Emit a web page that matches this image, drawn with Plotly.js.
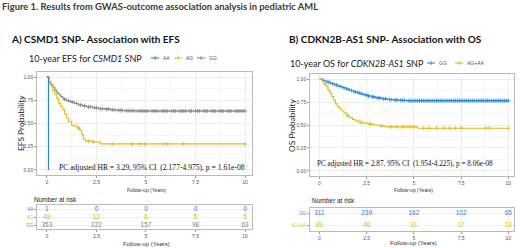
<!DOCTYPE html>
<html><head><meta charset="utf-8">
<script src="https://cdn.plot.ly/plotly-3.0.1.min.js"></script>
<style>html,body{margin:0;padding:0;background:#fff;}#chart{width:520px;height:248px;}</style>
</head><body><div id="chart"></div>
<script>
// ---------- DATA ----------
// Panel A: EFS by CSMD1 SNP genotype
const efsGroups = ["AA", "AG", "GG"];
const efsTimesAA = [0, 0.08];
const efsSurvAA  = [1, 0];
const efsTimesAG = [0, 0.1, 0.2, 0.3, 0.4, 0.5, 0.6, 0.7, 0.8, 0.9, 1.0, 1.1, 1.25, 1.4, 1.55, 1.65, 1.75, 1.85, 1.95, 2.3, 2.7, 10];
const efsSurvAG  = [1, 0.93, 0.90, 0.85, 0.81, 0.77, 0.72, 0.68, 0.65, 0.60, 0.56, 0.52, 0.48, 0.47, 0.45, 0.43, 0.38, 0.33, 0.31, 0.30, 0.28, 0.28];
const efsCensorAG = [1.6, 2.1, 2.35, 3.3, 4.3, 4.7, 4.95, 5.9, 6.1, 6.9, 10];
const efsTimesGG = [0, 0.1, 0.2, 0.3, 0.4, 0.5, 0.6, 0.7, 0.8, 0.9, 1.0, 1.2, 1.4, 1.6, 1.8, 2.0, 2.3, 2.6, 2.9, 3.2, 3.5, 3.9, 4.5, 10];
const efsSurvGG  = [1, 0.95, 0.92, 0.89, 0.86, 0.83, 0.81, 0.79, 0.77, 0.76, 0.745, 0.73, 0.715, 0.70, 0.69, 0.68, 0.67, 0.66, 0.655, 0.648, 0.642, 0.638, 0.635, 0.635];
const efsCensorGG = [0.9, 1.1, 1.3, 1.5, 1.7, 1.9, 2.1, 2.2, 2.4, 2.5, 2.7, 2.8, 3.0, 3.1, 3.3, 3.4, 3.6, 3.7, 3.8, 4.0, 4.1, 4.2, 4.3, 4.4, 4.6, 4.7, 4.8, 4.9, 5.0, 5.1, 5.3, 5.4, 5.5, 5.6, 5.8, 5.9, 6.0, 6.1, 6.3, 6.4, 6.5, 6.7, 6.8, 6.9, 7.0, 7.2, 7.3, 7.5, 7.6, 7.7, 7.9, 8.0, 8.1, 8.3, 8.4, 8.5, 8.7, 8.8, 8.9, 9.1, 9.2, 9.3, 9.5, 9.6, 9.7, 9.8, 9.9, 10.0];
const efsStats = "PC adjusted HR = 3.29, 95% CI  (2.177-4.975), p = 1.61e-08";

// Panel B: OS by CDKN2B-AS1 SNP genotype
const osGroups = ["GG", "AG+AA"];
const osTimesGG = [0, 0.2, 0.4, 0.6, 0.8, 1.0, 1.2, 1.4, 1.6, 1.8, 2.0, 2.2, 2.4, 2.6, 2.8, 3.0, 3.3, 3.6, 3.9, 4.2, 4.6, 10];
const osSurvGG  = [1, 0.98, 0.965, 0.95, 0.935, 0.92, 0.905, 0.89, 0.875, 0.86, 0.85, 0.835, 0.825, 0.815, 0.805, 0.795, 0.785, 0.777, 0.772, 0.768, 0.765, 0.765];
const osCensorGG = [0.5, 0.7, 0.9, 1.1, 1.3, 1.5, 1.7, 1.9, 2.1, 2.3, 2.5, 2.6, 2.8, 2.9, 3.1, 3.2, 3.4, 3.5, 3.7, 3.8, 4.0, 4.1, 4.3, 4.4, 4.5, 4.7, 4.8, 4.9, 5.0, 5.1, 5.2, 5.3, 5.4, 5.5, 5.6, 5.7, 5.8, 5.9, 6.0, 6.1, 6.2, 6.3, 6.4, 6.5, 6.6, 6.7, 6.8, 6.9, 7.0, 7.1, 7.2, 7.3, 7.4, 7.5, 7.6, 7.7, 7.8, 7.9, 8.0, 8.1, 8.2, 8.3, 8.4, 8.5, 8.6, 8.7, 8.8, 8.9, 9.0, 9.1, 9.2, 9.3, 9.4, 9.5, 9.6, 9.7, 9.8, 9.9, 10.0];
const osTimesAG = [0, 0.15, 0.25, 0.35, 0.45, 0.55, 0.65, 0.75, 0.85, 0.95, 1.05, 1.15, 1.3, 1.45, 1.6, 1.75, 1.9, 2.1, 2.3, 2.6, 2.9, 3.2, 3.5, 5.2, 10];
const osSurvAG  = [1, 0.97, 0.95, 0.92, 0.88, 0.85, 0.81, 0.77, 0.73, 0.70, 0.68, 0.655, 0.63, 0.60, 0.58, 0.56, 0.545, 0.53, 0.52, 0.51, 0.50, 0.49, 0.48, 0.465, 0.465];
const osCensorAG = [0.3, 1.5, 2.2, 2.7, 3.3, 3.8, 4.1, 4.4, 4.6, 4.8, 5.0, 5.5, 5.8, 6.2, 6.6, 6.9, 7.2, 7.5, 8.8, 9.0, 10];
const osStats = "PC adjusted HR = 2.87, 95% CI  (1.954-4.225), p = 8.06e-08";

// Number at risk tables
const riskTimes = [0, 2.5, 5, 7.5, 10];
const efsRiskAA = [1, 0, 0, 0, 0];
const efsRiskAG = [48, 12, 6, 5, 5];
const efsRiskGG = [353, 222, 157, 98, 63];
const osRiskGG = [311, 239, 162, 102, 65];
const osRiskAG = [89, 46, 31, 17, 13];

const xTickVals = [0, 2.5, 5, 7.5, 10];
const xTickText = ["0", "2.5", "5", "7.5", "10"];
const yTickVals = [0, 0.25, 0.5, 0.75, 1];
const yTickText = ["0.00", "0.25", "0.50", "0.75", "1.00"];

// ---------- STYLE ----------
const BLUE = "#2A84D0", YELLOW = "#E6BA14", GRAY = "#878787";
const W = 520, H = 248;
const px = v => v / W, py = v => 1 - v / H;
const SANS = "Lato, 'Open Sans', sans-serif";
const TICKF = {family: "'Liberation Sans', Arial, sans-serif", size: 5, color: "#555"};

function survAt(times, surv, t) {
  let s = surv[0];
  for (let i = 0; i < times.length; i++) if (times[i] <= t) s = surv[i];
  return s;
}
function curve(times, surv, censor, color, xa, ya) {
  const out = [{x: times, y: surv, type: "scatter", mode: "lines", line: {shape: "hv", color: color, width: 1.1},
    xaxis: xa, yaxis: ya, hoverinfo: "skip", showlegend: false}];
  if (censor && censor.length) {
    out.push({x: censor, y: censor.map(t => survAt(times, surv, t)), type: "scatter", mode: "markers",
      marker: {symbol: "cross-thin", size: 3, color: color, line: {color: color, width: 0.8}},
      xaxis: xa, yaxis: ya, hoverinfo: "skip", showlegend: false});
  }
  return out;
}
function riskRow(vals, yv, color, xa, ya) {
  return {x: riskTimes, y: riskTimes.map(() => yv), text: vals.map(String), mode: "text", type: "scatter",
    textfont: {family: "'Liberation Sans', Arial, sans-serif", size: 6.5, color: color},
    xaxis: xa, yaxis: ya, hoverinfo: "skip", showlegend: false};
}

const traces = [
  ...curve(efsTimesGG, efsSurvGG, efsCensorGG, GRAY, "x", "y"),
  ...curve(efsTimesAG, efsSurvAG, efsCensorAG, YELLOW, "x", "y"),
  ...curve(efsTimesAA, efsSurvAA, [], BLUE, "x", "y"),
  riskRow(efsRiskAA, 3, BLUE, "x2", "y2"),
  riskRow(efsRiskAG, 2, YELLOW, "x2", "y2"),
  riskRow(efsRiskGG, 1, GRAY, "x2", "y2"),
  ...curve(osTimesGG, osSurvGG, osCensorGG, BLUE, "x3", "y3"),
  ...curve(osTimesAG, osSurvAG, osCensorAG, YELLOW, "x3", "y3"),
  riskRow(osRiskGG, 2, BLUE, "x4", "y4"),
  riskRow(osRiskAG, 1, YELLOW, "x4", "y4")
];

function kmX(dom, range, showLabels) {
  return {domain: dom, range: range, tickvals: xTickVals, ticktext: xTickText, showticklabels: showLabels,
    ticks: "outside", ticklen: 2, tickcolor: "#999", tickfont: TICKF,
    showgrid: true, gridcolor: "#e9e9e9", gridwidth: 0.8,
    minor: {showgrid: true, gridcolor: "#f4f4f4", tickvals: [1.25, 3.75, 6.25, 8.75]},
    showline: true, mirror: true, linecolor: "#a9a9a9", linewidth: 0.8, zeroline: false, fixedrange: true};
}
function kmY(dom) {
  return {domain: dom, range: [-0.055, 1.055], tickvals: yTickVals, ticktext: yTickText,
    ticks: "outside", ticklen: 2, tickcolor: "#999", tickfont: TICKF,
    showgrid: true, gridcolor: "#e9e9e9", gridwidth: 0.8,
    minor: {showgrid: true, gridcolor: "#f4f4f4", tickvals: [0.125, 0.375, 0.625, 0.875]},
    showline: true, mirror: true, linecolor: "#a9a9a9", linewidth: 0.8, zeroline: false, fixedrange: true};
}
function riskY(dom, n, labels, colors) {
  const vals = labels.map((_, i) => n - i);
  return {domain: dom, range: [0.5, n + 0.5], tickvals: vals,
    ticktext: labels.map((l, i) => `<span style="color:${colors[i]}">${l}</span>`),
    ticks: "outside", ticklen: 2, tickcolor: "#999", tickfont: {family: TICKF.family, size: 4.5},
    showgrid: true, gridcolor: "#efefef", showline: true, mirror: true, linecolor: "#a9a9a9", linewidth: 0.8,
    zeroline: false, fixedrange: true};
}

const ann = [];
function txt(text, x, y, opts) {
  ann.push(Object.assign({text: text, x: px(x), y: py(y), xref: "paper", yref: "paper", showarrow: false,
    xanchor: "left", yanchor: "middle", font: {family: SANS, size: 8, color: "#222"}}, opts || {}));
}
txt("<b>Figure 1. Results from GWAS-outcome association analysis in pediatric AML</b>", 0, 7, {font: {family: SANS, size: 9.4, color: "#3a3a3a"}});
txt("<b>A) CSMD1 SNP- Association with EFS</b>", 9, 39, {font: {family: SANS, size: 10, color: "#111"}});
txt("<b>B) CDKN2B-AS1 SNP- Association with OS</b>", 287, 39, {font: {family: SANS, size: 10, color: "#111"}});
txt("10-year EFS for <i>CSMD1</i> SNP", 27, 58, {font: {family: SANS, size: 9, color: "#222"}});
txt("10-year OS for <i>CDKN2B-AS1</i> SNP", 288, 63, {font: {family: SANS, size: 9, color: "#222"}});
txt("EFS Probability", 21, 123, {xanchor: "center", textangle: -90, font: {family: SANS, size: 8.4, color: "#222"}});
txt("OS Probability", 292, 125, {xanchor: "center", textangle: -90, font: {family: SANS, size: 8.4, color: "#222"}});
txt("Follow-up (Years)", 146, 190, {xanchor: "center", font: {family: TICKF.family, size: 5, color: "#333"}});
txt("Follow-up (Years)", 413, 190, {xanchor: "center", font: {family: TICKF.family, size: 5, color: "#333"}});
txt("Follow-up (Years)", 146, 244, {xanchor: "center", font: {family: TICKF.family, size: 6, color: "#333"}});
txt("Follow-up (Years)", 413, 243, {xanchor: "center", font: {family: TICKF.family, size: 6, color: "#333"}});
txt("Number at risk", 32, 199, {font: {family: TICKF.family, size: 6.5, color: "#222"}});
txt("Number at risk", 310, 200, {font: {family: TICKF.family, size: 6.5, color: "#222"}});
// stats text in data coordinates
ann.push({text: efsStats, x: 0.5, y: 0.03, xref: "x", yref: "y", xanchor: "left", yanchor: "middle", showarrow: false,
  font: {family: "'Liberation Serif', 'Times New Roman', serif", size: 7.6, color: "#111"}});
ann.push({text: osStats, x: -0.25, y: 0.08, xref: "x3", yref: "y3", xanchor: "left", yanchor: "middle", showarrow: false,
  font: {family: "'Liberation Serif', 'Times New Roman', serif", size: 7.2, color: "#111"}});

// manual compact legends
const shapes = [];
function legendItem(label, color, cx, cy) {
  shapes.push({type: "line", xref: "paper", yref: "paper", x0: px(cx - 4), x1: px(cx + 4), y0: py(cy), y1: py(cy), line: {color: color, width: 1.1}});
  shapes.push({type: "line", xref: "paper", yref: "paper", x0: px(cx), x1: px(cx), y0: py(cy - 2), y1: py(cy + 2), line: {color: color, width: 0.9}});
  txt(label, cx + 6, cy, {font: {family: TICKF.family, size: 5, color: "#555"}});
}
const efsColors = [BLUE, YELLOW, GRAY];
const efsLegX = [155, 178, 201];
efsGroups.forEach((g, i) => legendItem(g, efsColors[i], efsLegX[i], 58));
const osColors = [BLUE, YELLOW];
const osLegX = [431, 459];
osGroups.forEach((g, i) => legendItem(g, osColors[i], osLegX[i], 63));

const layout = {
  width: W, height: H, margin: {l: 0, r: 0, t: 0, b: 0}, paper_bgcolor: "#fff", plot_bgcolor: "#fff",
  showlegend: false,
  xaxis: kmX([px(37), px(252)], [-0.5, 10.35], true),
  yaxis: kmY([py(175), py(72)]),
  xaxis2: Object.assign(kmX([px(37), px(252)], [-0.5, 10.35], true), {minor: {showgrid: false}, gridcolor: "#efefef"}),
  yaxis2: riskY([py(229), py(205)], 3, efsGroups, efsColors),
  xaxis3: kmX([px(310), px(514)], [-0.5, 10.3], true),
  yaxis3: kmY([py(176), py(74)]),
  xaxis4: Object.assign(kmX([px(310), px(514)], [-0.5, 10.3], true), {minor: {showgrid: false}, gridcolor: "#efefef"}),
  yaxis4: riskY([py(231), py(208)], 2, osGroups, osColors),
  annotations: ann, shapes: shapes
};
layout.yaxis2.anchor = "x2"; layout.xaxis2.anchor = "y2";
layout.yaxis4.anchor = "x4"; layout.xaxis4.anchor = "y4";
layout.xaxis.anchor = "y"; layout.yaxis.anchor = "x";
layout.xaxis3.anchor = "y3"; layout.yaxis3.anchor = "x3";

Plotly.newPlot("chart", traces, layout, {staticPlot: true, displayModeBar: false});
</script></body></html>
